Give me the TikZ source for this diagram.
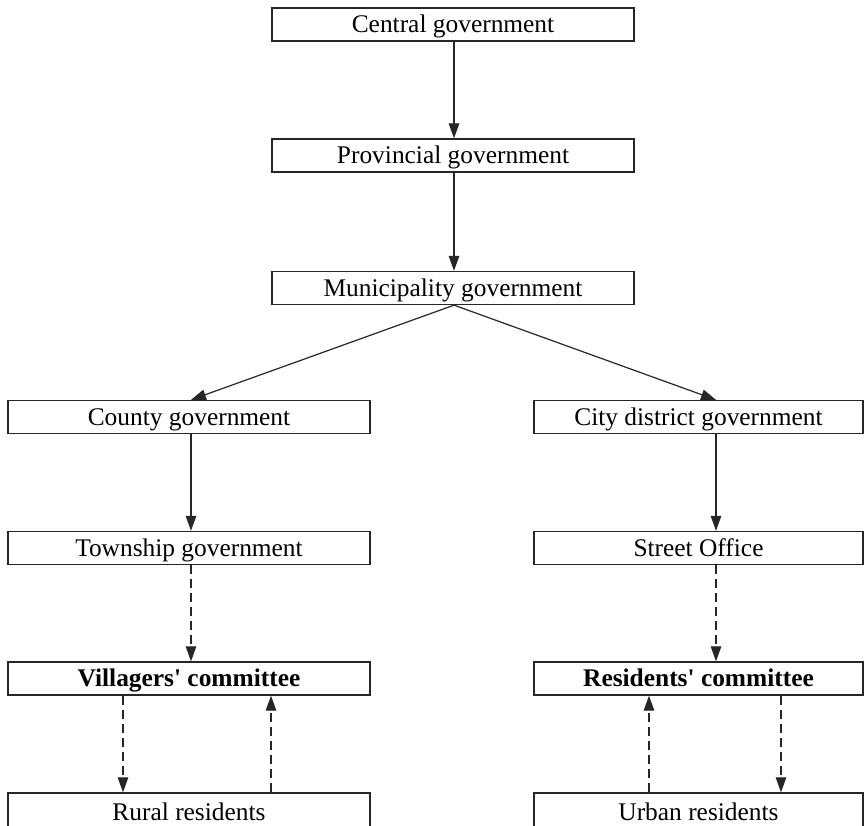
\documentclass[tikz,border=0pt]{standalone}
\usepackage{fontspec}
\setmainfont{Liberation Serif}[Ligatures=TeXOff]
\usetikzlibrary{arrows.meta}
\begin{document}
\begin{tikzpicture}[x=1pt,y=-1pt,
  box/.style={draw=black!85,line width=1.3pt,inner sep=0pt,minimum height=33pt,
    text height=16.8pt,text depth=0pt,
    font=\fontsize{25.4}{30}\selectfont},
  wbox/.style={box,minimum width=362pt},
  rbox/.style={box,minimum width=329pt},
  lowbox/.style={minimum height=38pt},
  conn/.style={draw=black!85,line width=1.2pt,-{Triangle[length=15pt,width=10.5pt]}},
  dconn/.style={conn,dash pattern=on 9pt off 5pt}]
\useasboundingbox (0,0) rectangle (865,825);
\clip (0,0) rectangle (865,825);
\node[wbox] (cen) at (453,24.5) {Central government};
\node[wbox] (pro) at (453,155.5) {Provincial government};
\node[wbox] (mun) at (453,288) {Municipality government};
\node[wbox] (cou) at (189,417) {County government};
\node[rbox] (cit) at (698.5,417) {City district government};
\node[wbox] (tow) at (189,548) {Township government};
\node[rbox] (str) at (698.5,548) {Street Office};
\node[wbox] (vil) at (189,678.5) {\bfseries Villagers' committee};
\node[rbox] (res) at (698.5,678.5) {\bfseries Residents' committee};
\node[wbox,lowbox] (rur) at (189,812) {Rural residents};
\node[rbox,lowbox] (urb) at (698.5,812) {Urban residents};
\coordinate (xm) at (454,0);
\coordinate (xl) at (191,0);
\coordinate (xr) at (716,0);
\coordinate (xa) at (123,0);
\coordinate (xb) at (271,0);
\coordinate (xc) at (649,0);
\coordinate (xd) at (781,0);
\path[conn] (cen.south -| xm) -- (pro.north -| xm);
\path[conn] (pro.south -| xm) -- (mun.north -| xm);
\path[conn] (mun.south -| xm) -- (cou.north -| xl);
\path[conn] (mun.south -| xm) -- (cit.north -| xr);
\path[conn] (cou.south -| xl) -- (tow.north -| xl);
\path[conn] (cit.south -| xr) -- (str.north -| xr);
\path[dconn] (tow.south -| xl) -- (vil.north -| xl);
\path[dconn] (str.south -| xr) -- (res.north -| xr);
\path[dconn] (vil.south -| xa) -- (rur.north -| xa);
\path[dconn] (rur.north -| xb) -- (vil.south -| xb);
\path[dconn] (urb.north -| xc) -- (res.south -| xc);
\path[dconn] (res.south -| xd) -- (urb.north -| xd);
\end{tikzpicture}
\end{document}
